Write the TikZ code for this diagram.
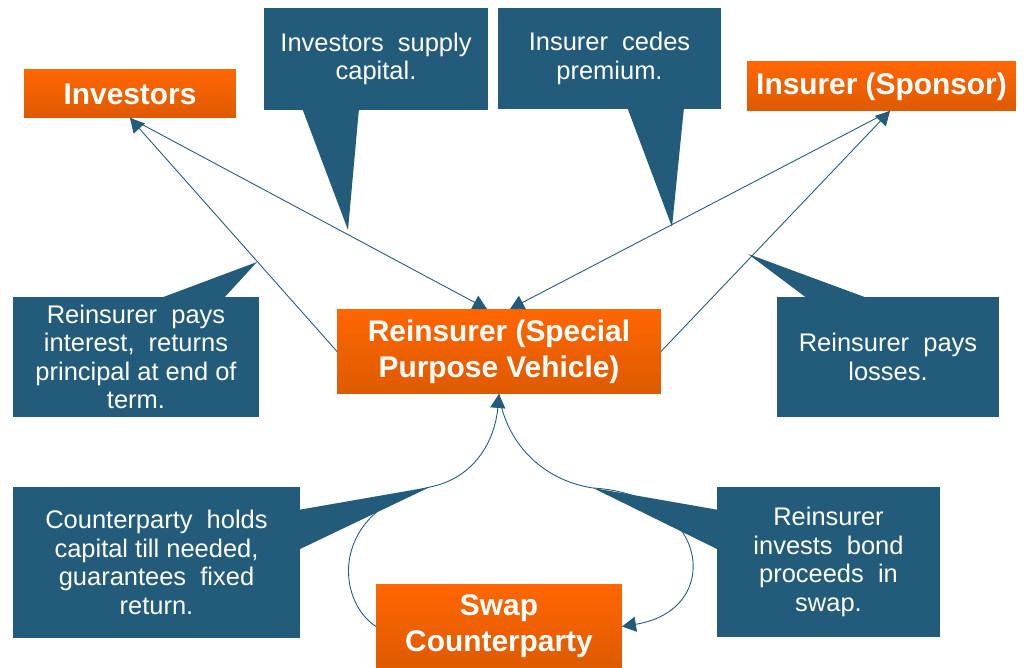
\documentclass[tikz,border=0pt]{standalone}
\usepackage{fontspec}
\setmainfont{Liberation Sans}
\usetikzlibrary{arrows.meta,calc}

\definecolor{noteblue}{RGB}{35,91,122}
\definecolor{boxtop}{RGB}{255,102,0}
\definecolor{boxbottom}{RGB}{222,90,0}

\tikzset{
  party/.style={top color=boxtop, bottom color=boxbottom, text=white, inner sep=0pt, outer sep=0pt,
    align=center, font=\fontsize{17}{20.4}\selectfont\bfseries},
  note/.style={fill=noteblue, text=white, inner sep=0pt, outer sep=0pt,
    align=center, font=\fontsize{14.5}{16.2}\selectfont},
  flow/.style={draw=noteblue, line width=0.5pt, -{Triangle[length=0.28cm,width=0.3cm]}},
}

\begin{document}
\begin{tikzpicture}[x=0.02cm, y=-0.02cm]
\useasboundingbox (0,0) rectangle (1025,668);

\node[party, minimum width=4.24cm, minimum height=0.96cm] (inv) at (130,94) {Investors};
\node[party, minimum width=5.38cm, minimum height=0.98cm] (ins) at (881.5,86.5) {Insurer (Sponsor)};
\node[party, minimum width=6.48cm, minimum height=1.70cm] (spv) at (499,351.5) {Reinsurer (Special\\Purpose Vehicle)};
\node[party, minimum width=4.92cm, minimum height=1.70cm] (swap) at (499,626.5) {Swap\\Counterparty};

\node[note, minimum width=4.48cm, minimum height=2.04cm] (cap) at (376,59) {Investors\ \ supply\\capital.};
\node[note, minimum width=4.46cm, minimum height=2.02cm] (ced) at (609.5,58.5) {Insurer\ \ cedes\\premium.};
\node[note, minimum width=4.92cm, minimum height=2.40cm] (int) at (136,357) {Reinsurer\ \ pays\\interest,\ \ returns\\principal at end of\\term.};
\node[note, minimum width=4.44cm, minimum height=2.40cm] (los) at (888,357) {Reinsurer\ \ pays\\losses.};
\node[note, minimum width=5.74cm, minimum height=3.02cm] (hol) at (156.5,562.5) {Counterparty\ \ holds\\capital till needed,\\guarantees\ \ fixed\\return.};
\node[note, minimum width=4.46cm, minimum height=3.00cm] (bnd) at (828.5,562) {Reinsurer\\invests\ \ bond\\proceeds\ \ in\\swap.};

\coordinate (tcap) at (348,230);
\coordinate (tced) at (672,227);
\coordinate (tint) at (257,262);
\coordinate (tlos) at (748,254);
\coordinate (thol) at (430,487);
\coordinate (tbnd) at (593,488);

\fill[noteblue] ($(cap.south west)+(38,-2)$) -- (tcap) -- ($(cap.south west)+(95,-2)$) -- cycle;
\fill[noteblue] ($(ced.south west)+(129,-2)$) -- (tced) -- ($(ced.south west)+(186,-2)$) -- cycle;
\fill[noteblue] ($(int.north west)+(145,2)$) -- (tint) -- ($(int.north west)+(210,2)$) -- cycle;
\fill[noteblue] ($(los.north west)+(31,2)$) -- (tlos) -- ($(los.north west)+(93,2)$) -- cycle;
\fill[noteblue] ($(hol.north east)+(-2,23)$) -- (thol) -- ($(hol.north east)+(-2,63)$) -- cycle;
\fill[noteblue] ($(bnd.north west)+(2,23)$) -- (tbnd) -- ($(bnd.north west)+(2,63)$) -- cycle;

\draw[flow] (spv.west) -- (inv.south);
\draw[flow] (inv.south) -- ([xshift=-0.24cm]spv.north);
\draw[flow] ([xshift=0.17cm]ins.south) -- ([xshift=0.22cm]spv.north);
\draw[flow] (spv.east) -- ([xshift=0.17cm]ins.south);
\draw[flow] (swap.west) .. controls (335,600) and (330,510) .. (thol) .. controls (475,478) and (495,440) .. (spv.south);
\draw[flow] (spv.south) .. controls (505,440) and (540,480) .. (tbnd) .. controls (710,495) and (725,610) .. (swap.east);

\end{tikzpicture}
\end{document}
